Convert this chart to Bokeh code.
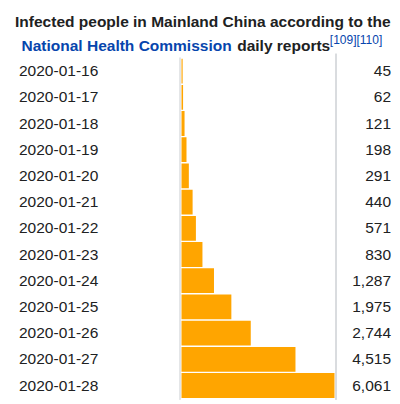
from bokeh.plotting import figure
from bokeh.models import Range1d, Label, ColumnDataSource
from bokeh.core.properties import value
from bokeh.embed import file_html
from bokeh.resources import INLINE

dates = ["2020-01-16", "2020-01-17", "2020-01-18", "2020-01-19", "2020-01-20",
         "2020-01-21", "2020-01-22", "2020-01-23", "2020-01-24", "2020-01-25",
         "2020-01-26", "2020-01-27", "2020-01-28"]
infected = [45, 62, 121, 198, 291, 440, 571, 830, 1287, 1975, 2744, 4515, 6061]
value_labels = ["45", "62", "121", "198", "291", "440", "571", "830", "1,287",
                "1,975", "2,744", "4,515", "6,061"]

W, H = 392, 400
ROW = 26.2
FIRST_CENTER = 70.6      # canvas px of first row centre
BAR_X0 = 181.0           # canvas px of value 0
BAR_PX = 153.0           # px for max value
max_v = max(infected)
scale = BAR_PX / max_v
x_start = -BAR_X0 / scale
x_end = (W - BAR_X0) / scale


def px(c):
    return x_start + c / scale


y_top = -FIRST_CENTER / ROW
y_bottom = y_top + H / ROW

FONT = "Liberation Sans"
TXT = "#202122"
BLUE = "#0645ad"

p = figure(width=W, height=H, output_backend="svg", toolbar_location=None,
           x_range=Range1d(x_start, x_end), y_range=Range1d(y_bottom, y_top),
           min_border=0, min_border_left=0, min_border_right=0,
           min_border_top=0, min_border_bottom=0)
p.axis.visible = False
p.grid.visible = False
p.outline_line_color = None
p.background_fill_color = "white"
p.border_fill_color = "white"

rows = list(range(len(dates)))
src = ColumnDataSource(dict(y=rows, v=infected, d=dates, lab=value_labels,
                            x0=[0] * len(dates),
                            xd=[px(18.5)] * len(dates),
                            xv=[px(390.5)] * len(dates)))

p.hbar(y="y", left="x0", right="v", height=0.945, source=src,
       fill_color="#ffa500", line_color=None)

top_edge = -0.5 - 0.02
bot_edge = len(dates) - 0.5 + 0.05
p.segment(x0=[px(179.5)], x1=[px(179.5)], y0=[top_edge], y1=[bot_edge],
          line_color="#c8ccd1", line_width=1)
p.segment(x0=[px(335.5)], x1=[px(335.5)], y0=[top_edge - 0.15], y1=[bot_edge],
          line_color="#b4b9bf", line_width=1)

p.text(x="xd", y="y", text="d", source=src, text_font=value(FONT),
       text_font_size="15.5px", text_color=TXT, text_align="left",
       text_baseline="middle")
p.text(x="xv", y="y", text="lab", source=src, text_font=value(FONT),
       text_font_size="15.5px", text_color=TXT, text_align="right",
       text_baseline="middle")

title_parts = [
    ("Infected people in Mainland China according to the", 202.3, H - 20.7,
     "center", TXT, "bold", "15.5px"),
    ("National Health Commission", 21.0, H - 45.0, "left", BLUE, "bold", "15.5px"),
    ("daily reports", 236.7, H - 45.0, "left", TXT, "bold", "15.5px"),
    ("[109][110]", 329.3, H - 39.3, "left", BLUE, "normal", "12px"),
]
for t, lx, ly, al, col, st, fs in title_parts:
    p.add_layout(Label(x=lx, y=ly, x_units="screen", y_units="screen", text=t,
                       text_font=FONT, text_font_size=fs, text_font_style=st,
                       text_color=col, text_align=al,
                       text_baseline="alphabetic"))

open("out.html", "w").write(file_html(p, INLINE))
